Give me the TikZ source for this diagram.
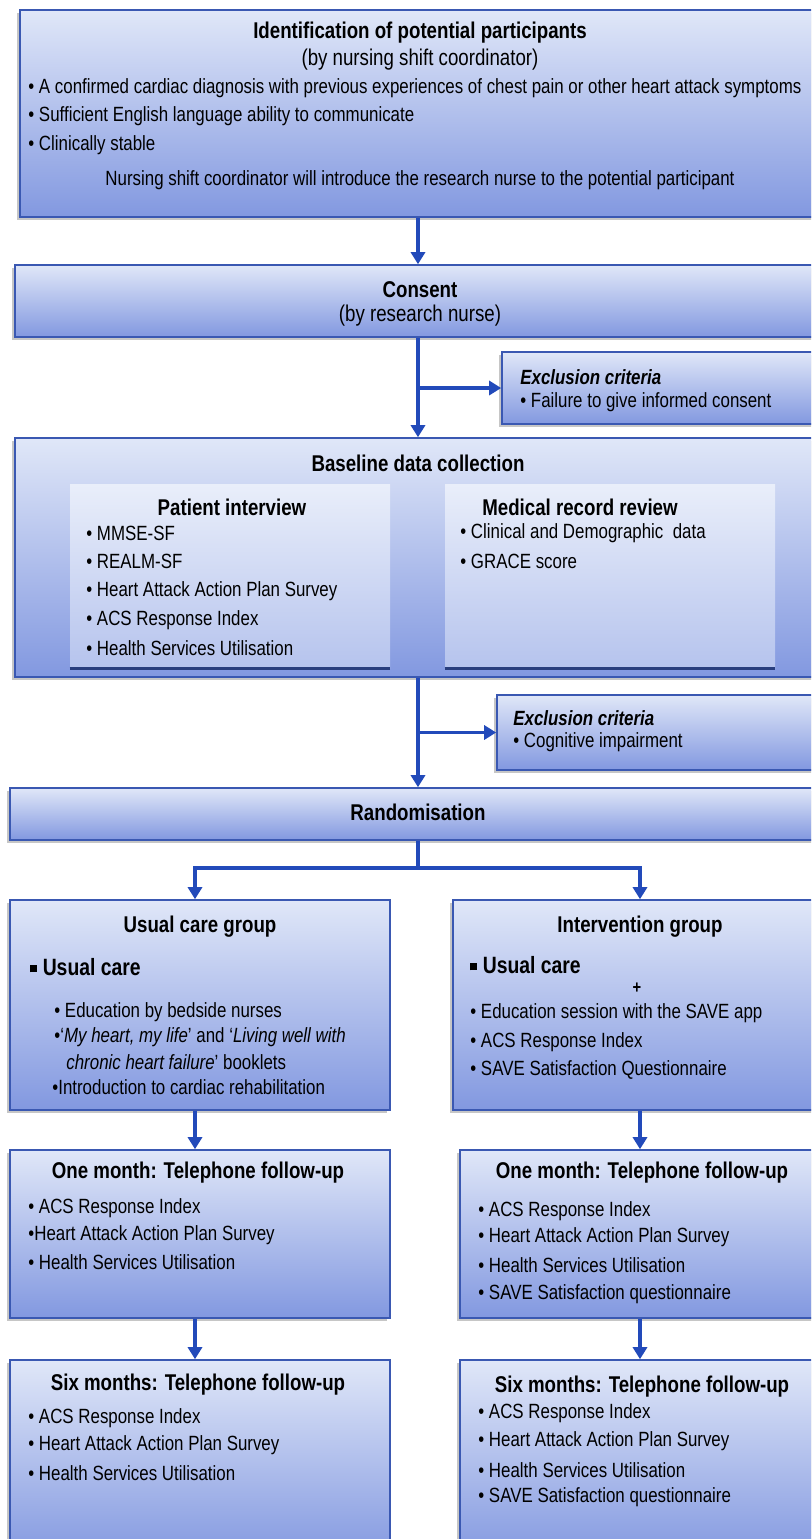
\documentclass[tikz,border=0pt]{standalone}
\usepackage{fontspec}
\setmainfont{Liberation Sans}[FakeStretch=0.82]
\usetikzlibrary{arrows.meta,shadows,fit}
\definecolor{boxtop}{RGB}{224,231,248}
\definecolor{boxbot}{RGB}{130,152,224}
\definecolor{boxline}{RGB}{58,88,178}
\definecolor{flowblue}{RGB}{34,74,186}
\tikzset{
  stagebox/.style={draw=boxline, line width=0.8pt, top color=boxtop, bottom color=boxbot, inner sep=0pt,
    drop shadow={shadow xshift=-1.5pt, shadow yshift=-1.5pt, opacity=.45}},
  subbox/.style={top color=boxtop!70!white, bottom color=boxbot!45!boxtop, inner sep=0pt},
  flowline/.style={draw=flowblue, line width=1.6pt},
  flow/.style={flowline, -{Triangle[width=7pt,length=6pt]}},
  ttl/.style={inner sep=0pt, font=\bfseries\fontsize{11.4}{13}\selectfont},
  sub/.style={inner sep=0pt, font=\fontsize{11.4}{13}\selectfont},
  txt/.style={anchor=west, inner sep=0pt, font=\fontsize{10.3}{12}\selectfont},
}
\begin{document}
\begin{tikzpicture}[x=0.5pt, y=-0.5pt]
\useasboundingbox (0,0) rectangle (811,1539);
\clip (0,0) rectangle (811,1539);

\node[stagebox, fit={(20,10) (830,217)}] (ident) {};
\node[ttl] (ident-t) at (420,33) {Identification of potential participants};
\node[sub] (ident-s) at (420,60) {(by nursing shift coordinator)};
\node[txt] (ident-a) at (28,88) {• A confirmed cardiac diagnosis with previous experiences of chest pain or other heart attack symptoms};
\node[txt] (ident-b) at (28,116) {• Sufficient English language ability to communicate};
\node[txt] (ident-c) at (28,145) {• Clinically stable};
\node[txt, anchor=center] (ident-d) at (420,180) {Nursing shift coordinator will introduce the research nurse to the potential participant};

\node[stagebox, fit={(15,265) (830,337)}] (consent) {};
\node[ttl] (consent-t) at (420,290) {Consent};
\node[sub] (consent-s) at (420,316) {(by research nurse)};

\node[stagebox, fit={(502,352) (830,424)}] (excl1) {};
\node[txt, font=\bfseries\itshape\fontsize{10.3}{12}\selectfont] (excl1-t) at (520,377) {Exclusion criteria};
\node[txt] (excl1-a) at (520,402) {• Failure to give informed consent};

\node[stagebox, fit={(15,438) (830,677)}] (base) {};
\node[ttl] (base-t) at (418,463) {Baseline data collection};
\node[subbox, fit={(70,484) (390,668)}] (pint) {};
\node[subbox, fit={(445,484) (775,668)}] (mrec) {};
\draw[boxline!70!black, line width=1.2pt] (pint.south west) -- (pint.south east);
\draw[boxline!70!black, line width=1.2pt] (mrec.south west) -- (mrec.south east);
\node[ttl] (pint-t) at (232,507) {Patient interview};
\node[txt] (pint-a) at (86,533) {• MMSE-SF};
\node[txt] (pint-b) at (86,561) {• REALM-SF};
\node[txt] (pint-c) at (86,591) {• Heart Attack Action Plan Survey};
\node[txt] (pint-d) at (86,620) {• ACS Response Index};
\node[txt] (pint-e) at (86,648) {• Health Services Utilisation};
\node[ttl] (mrec-t) at (580,507) {Medical record review};
\node[txt] (mrec-a) at (460,533) {• Clinical and Demographic\ \ data};
\node[txt] (mrec-b) at (460,561) {• GRACE score};

\node[stagebox, fit={(497,695) (830,770)}] (excl2) {};
\node[txt, font=\bfseries\itshape\fontsize{10.3}{12}\selectfont] (excl2-t) at (513,718) {Exclusion criteria};
\node[txt] (excl2-a) at (513,742) {• Cognitive impairment};

\node[stagebox, fit={(10,788) (830,840)}] (rand) {};
\node[ttl] (rand-t) at (418,812) {Randomisation};

\node[stagebox, fit={(10,900) (390,1110)}] (usual) {};
\node[ttl] (usual-t) at (200,927) {Usual care group};
\node[txt, font=\bfseries\fontsize{11.8}{13}\selectfont] (usual-u) at (30,967) {\rule[1.5pt]{3.5pt}{3.5pt} Usual care};
\node[txt] (usual-a) at (54,1012) {• Education by bedside nurses};
\node[txt] (usual-b) at (54,1037) {•‘\textit{My heart, my life}’ and ‘\textit{Living well with}};
\node[txt] (usual-c) at (66,1062) {\textit{chronic heart failure}’ booklets};
\node[txt] (usual-d) at (52,1087) {•Introduction to cardiac rehabilitation};

\node[stagebox, fit={(453,900) (830,1110)}] (interv) {};
\node[ttl] (interv-t) at (640,927) {Intervention group};
\node[txt, font=\bfseries\fontsize{11.8}{13}\selectfont] (interv-u) at (470,965) {\rule[1.5pt]{3.5pt}{3.5pt} Usual care};
\node[inner sep=0pt, font=\bfseries\fontsize{9}{10}\selectfont] (interv-p) at (637,988) {+};
\node[txt] (interv-a) at (470,1013) {• Education session with the SAVE app};
\node[txt] (interv-b) at (470,1042) {• ACS Response Index};
\node[txt] (interv-c) at (470,1070) {• SAVE Satisfaction Questionnaire};

\node[stagebox, fit={(10,1150) (390,1318)}] (onel) {};
\node[ttl] (onel-t) at (198,1173) {One month: Telephone follow-up};
\node[txt] (onel-a) at (28,1208) {• ACS Response Index};
\node[txt] (onel-b) at (28,1235) {•Heart Attack Action Plan Survey};
\node[txt] (onel-c) at (28,1262) {• Health Services Utilisation};

\node[stagebox, fit={(460,1150) (830,1318)}] (oner) {};
\node[ttl] (oner-t) at (642,1173) {One month: Telephone follow-up};
\node[txt] (oner-a) at (478,1211) {• ACS Response Index};
\node[txt] (oner-b) at (478,1237) {• Heart Attack Action Plan Survey};
\node[txt] (oner-c) at (478,1265) {• Health Services Utilisation};
\node[txt] (oner-d) at (478,1294) {• SAVE Satisfaction questionnaire};

\node[stagebox, fit={(10,1360) (390,1560)}] (sixl) {};
\node[ttl] (sixl-t) at (198,1385) {Six months: Telephone follow-up};
\node[txt] (sixl-a) at (28,1418) {• ACS Response Index};
\node[txt] (sixl-b) at (28,1445) {• Heart Attack Action Plan Survey};
\node[txt] (sixl-c) at (28,1473) {• Health Services Utilisation};

\node[stagebox, fit={(460,1360) (830,1560)}] (sixr) {};
\node[ttl] (sixr-t) at (642,1387) {Six months: Telephone follow-up};
\node[txt] (sixr-a) at (478,1413) {• ACS Response Index};
\node[txt] (sixr-b) at (478,1441) {• Heart Attack Action Plan Survey};
\node[txt] (sixr-c) at (478,1470) {• Health Services Utilisation};
\node[txt] (sixr-d) at (478,1497) {• SAVE Satisfaction questionnaire};

\coordinate (mainx) at (418,0);
\coordinate (leftx) at (195,0);
\coordinate (rightx) at (640,0);
\coordinate (split) at (418,868);
\draw[flow] (mainx |- ident.south) -- (mainx |- consent.north);
\draw[flow] (mainx |- consent.south) -- (mainx |- base.north);
\draw[flow] (mainx |- excl1.west) -- (excl1.west);
\draw[flow] (mainx |- base.south) -- (mainx |- rand.north);
\draw[flow] (mainx |- excl2.west) -- (excl2.west);
\draw[flowline] (mainx |- rand.south) -- (split);
\draw[flow] (split) -| (leftx |- usual.north);
\draw[flow] (split) -| (rightx |- interv.north);
\draw[flow] (leftx |- usual.south) -- (leftx |- onel.north);
\draw[flow] (rightx |- interv.south) -- (rightx |- oner.north);
\draw[flow] (leftx |- onel.south) -- (leftx |- sixl.north);
\draw[flow] (rightx |- oner.south) -- (rightx |- sixr.north);
\end{tikzpicture}
\end{document}
